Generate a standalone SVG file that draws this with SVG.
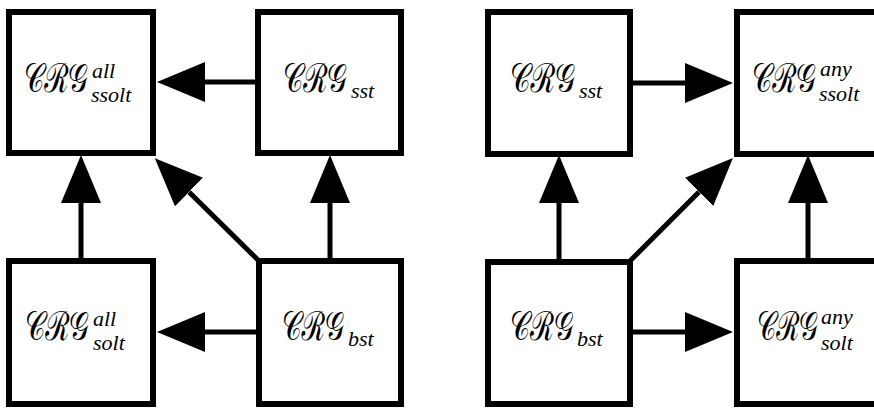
<svg xmlns="http://www.w3.org/2000/svg" width="874" height="408" viewBox="0 0 874 408">
<style>
.box{fill:#fff;stroke:#000;stroke-width:6}
.ln{stroke:#000;stroke-width:5;fill:none}
.cal{font-family:"DejaVu Serif","Noto Sans",serif;font-size:40px}
.it{font-family:"Liberation Serif",serif;font-style:italic;font-size:22px}
</style>
<defs>
<marker id="ah" markerUnits="userSpaceOnUse" markerWidth="48" markerHeight="40" refX="0" refY="20" orient="auto" viewBox="0 0 48 40">
<path d="M0,0 L48,20 L0,40 Z" fill="#000"/>
</marker>
</defs>
<rect width="874" height="408" fill="#fff"/>
<g id="connectors">
<line class="ln" x1="258" y1="82" x2="205" y2="82" marker-end="url(#ah)"/>
<line class="ln" x1="81" y1="261" x2="81" y2="203" marker-end="url(#ah)"/>
<line class="ln" x1="330" y1="261" x2="330" y2="203" marker-end="url(#ah)"/>
<line class="ln" x1="259" y1="332" x2="205" y2="332" marker-end="url(#ah)"/>
<line class="ln" x1="259" y1="261" x2="189" y2="192" marker-end="url(#ah)"/>
<line class="ln" x1="630" y1="83" x2="685" y2="83" marker-end="url(#ah)"/>
<line class="ln" x1="559" y1="262" x2="559" y2="203" marker-end="url(#ah)"/>
<line class="ln" x1="630" y1="261" x2="699" y2="192" marker-end="url(#ah)"/>
<line class="ln" x1="808" y1="262" x2="808" y2="203" marker-end="url(#ah)"/>
<line class="ln" x1="630" y1="332" x2="685" y2="332" marker-end="url(#ah)"/>
</g>
<g id="n1"><rect class="box" x="9" y="12" width="144" height="141"/>
<text class="cal" x="24" y="92" textLength="64" lengthAdjust="spacingAndGlyphs">𝒞ℛ𝒢</text>
<text class="it" font-family="Liberation Serif" x="92" y="78">all</text>
<text class="it" font-family="Liberation Serif" x="91" y="102">ssolt</text></g>
<g id="n2"><rect class="box" x="258" y="12" width="143" height="141"/>
<text class="cal" x="283" y="92" textLength="64" lengthAdjust="spacingAndGlyphs">𝒞ℛ𝒢</text>
<text class="it" font-family="Liberation Serif" x="351" y="98">sst</text></g>
<g id="n3"><rect class="box" x="9" y="261" width="144" height="143"/>
<text class="cal" x="25" y="340" textLength="64" lengthAdjust="spacingAndGlyphs">𝒞ℛ𝒢</text>
<text class="it" font-family="Liberation Serif" x="93" y="326">all</text>
<text class="it" font-family="Liberation Serif" x="93" y="350">solt</text></g>
<g id="n4"><rect class="box" x="259" y="261" width="142" height="143"/>
<text class="cal" x="282" y="340" textLength="62" lengthAdjust="spacingAndGlyphs">𝒞ℛ𝒢</text>
<text class="it" font-family="Liberation Serif" x="348" y="346">bst</text></g>
<g id="n5"><rect class="box" x="488" y="12" width="142" height="142"/>
<text class="cal" x="510" y="92" textLength="65" lengthAdjust="spacingAndGlyphs">𝒞ℛ𝒢</text>
<text class="it" font-family="Liberation Serif" x="579" y="98">sst</text></g>
<g id="n6"><rect class="box" x="737" y="12" width="145" height="142"/>
<text class="cal" x="752" y="92" textLength="64" lengthAdjust="spacingAndGlyphs">𝒞ℛ𝒢</text>
<text class="it" font-family="Liberation Serif" x="820" y="76">any</text>
<text class="it" font-family="Liberation Serif" x="819" y="101">ssolt</text></g>
<g id="n7"><rect class="box" x="488" y="262" width="142" height="142"/>
<text class="cal" x="510" y="340" textLength="63" lengthAdjust="spacingAndGlyphs">𝒞ℛ𝒢</text>
<text class="it" font-family="Liberation Serif" x="577" y="346">bst</text></g>
<g id="n8"><rect class="box" x="737" y="261" width="145" height="143"/>
<text class="cal" x="757" y="340" textLength="61" lengthAdjust="spacingAndGlyphs">𝒞ℛ𝒢</text>
<text class="it" font-family="Liberation Serif" x="821" y="324">any</text>
<text class="it" font-family="Liberation Serif" x="821" y="350">solt</text></g>
</svg>
